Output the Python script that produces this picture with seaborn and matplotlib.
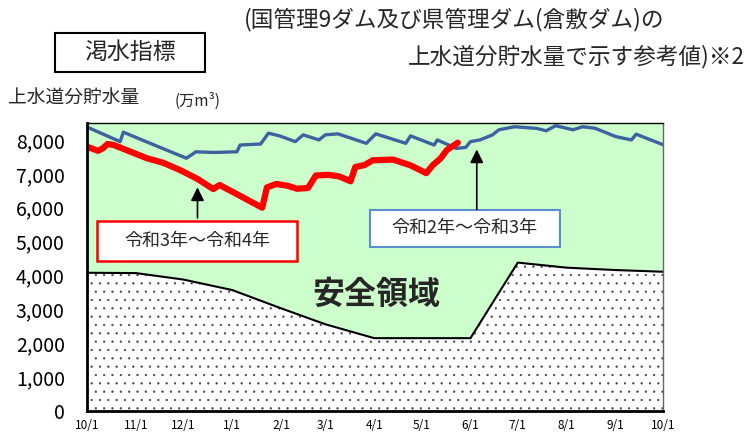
import numpy as np
import pandas as pd
import seaborn as sns
import matplotlib.pyplot as plt
from matplotlib.patches import Rectangle

# days counted from 10/1
month_labels = ["10/1", "11/1", "12/1", "1/1", "2/1", "3/1", "4/1", "5/1", "6/1", "7/1", "8/1", "9/1", "10/1"]
month_days = [0, 31, 61, 92, 123, 151, 182, 212, 243, 273, 304, 335, 365]

# 令和2年～令和3年
blue_day = [0, 21, 23, 40, 63, 69, 80, 95, 97, 110, 115, 122, 132, 137, 147, 151, 159, 177, 183,
            202, 205, 220, 222, 234, 240, 243, 249, 257, 261, 271, 285, 291, 297, 308, 314, 322,
            335, 345, 348, 365]
blue_val = [8380, 7950, 8230, 7900, 7460, 7650, 7630, 7650, 7850, 7880, 8200, 8120, 7950, 8150, 8000,
            8150, 8180, 7900, 8180, 7900, 8120, 7850, 8000, 7750, 7780, 7950, 8000, 8150, 8300, 8390,
            8340, 8270, 8420, 8300, 8390, 8345, 8100, 8000, 8170, 7860]

# 令和3年～令和4年
red_day = [0, 7, 10, 13, 17, 25, 38, 48, 59, 70, 80, 84, 95, 111, 114, 120, 127, 133, 140, 145,
           153, 160, 167, 170, 176, 181, 194, 205, 215, 219, 224, 228, 235]
red_val = [7800, 7680, 7750, 7880, 7850, 7700, 7460, 7330, 7110, 6850, 6550, 6670, 6400, 6000, 6600,
           6700, 6650, 6560, 6580, 6950, 6970, 6920, 6780, 7200, 7260, 7400, 7420, 7250, 7020, 7250,
           7450, 7700, 7920]

# 渇水指標 boundary
safe_day = [0, 31, 61, 92, 123, 151, 182, 243, 273, 304, 335, 365]
safe_val = [4080, 4070, 3880, 3570, 3030, 2560, 2150, 2150, 4380, 4230, 4160, 4110]

yticks = [0, 1000, 2000, 3000, 4000, 5000, 6000, 7000, 8000]

sns.set_style("white")
plt.rcParams["font.family"] = ["Noto Sans CJK JP", "DejaVu Sans"]
plt.rcParams["hatch.linewidth"] = 0.4

fig = plt.figure(figsize=(7.47, 4.34), dpi=100)
ax = fig.add_axes([0.1165, 0.053, 0.771, 0.6636])
ax.set_facecolor("#ccffcc")

ax.fill_between(safe_day, 0, safe_val, facecolor="white", edgecolor="#444444", hatch="..", linewidth=0)
sns.lineplot(x=safe_day, y=safe_val, ax=ax, color="black", linewidth=1.5)

blue = pd.DataFrame({"day": blue_day, "val": blue_val})
red = pd.DataFrame({"day": red_day, "val": red_val})
sns.lineplot(data=blue, x="day", y="val", ax=ax, color="#3d62a0", linewidth=2.4)
sns.lineplot(data=red, x="day", y="val", ax=ax, color="#ff0000", linewidth=4.5)

ax.set_xlim(0, 365)
ax.set_ylim(0, 8500)
ax.set_xticks(month_days)
ax.set_xticklabels(month_labels, fontsize=8.5)
ax.set_yticks(yticks)
ax.set_yticklabels([f"{v:,}" for v in yticks], fontsize=14)
ax.tick_params(axis="y", direction="in", length=5, pad=16, colors="black")
ax.tick_params(axis="x", direction="in", length=5, pad=6, colors="black")
ax.set_xlabel("")
ax.set_ylabel("")
for side in ["left", "bottom"]:
    ax.spines[side].set_linewidth(2)
    ax.spines[side].set_color("black")
ax.spines["top"].set_linewidth(1)
ax.spines["top"].set_color("black")
ax.spines["right"].set_linewidth(1)
ax.spines["right"].set_color("#666666")

ax.text(0.502, 0.403, "安全領域", transform=ax.transAxes, fontsize=23, fontweight="bold",
        ha="center", va="center")

# annotation boxes
ax.add_patch(Rectangle((0.0174, 0.521), 0.347, 0.139, transform=ax.transAxes,
                       facecolor="white", edgecolor="#ff0000", linewidth=1.8, zorder=5))
ax.text(0.191, 0.590, "令和3年～令和4年", transform=ax.transAxes, fontsize=13,
        ha="center", va="center", zorder=6)
ax.add_patch(Rectangle((0.4913, 0.569), 0.330, 0.129, transform=ax.transAxes,
                       facecolor="white", edgecolor="#5b8fd0", linewidth=1.5, zorder=5))
ax.text(0.656, 0.634, "令和2年～令和3年", transform=ax.transAxes, fontsize=13,
        ha="center", va="center", zorder=6)

arrow = dict(arrowstyle="-|>", color="black", lw=1.2, mutation_scale=20, shrinkA=0, shrinkB=0)
ax.annotate("", xy=(70, 6600), xytext=(70, 5700), arrowprops=arrow, zorder=6)
ax.annotate("", xy=(247, 7720), xytext=(247, 5950), arrowprops=arrow, zorder=6)

# header texts
fig.text(0.890, 0.954, "(国管理9ダム及び県管理ダム(倉敷ダム)の", fontsize=16.3, ha="right", va="center")
fig.text(0.997, 0.869, "上水道分貯水量で示す参考値)※2", fontsize=16.3, ha="right", va="center")
fig.patches.append(Rectangle((0.0736, 0.834), 0.2008, 0.0899, transform=fig.transFigure,
                             facecolor="white", edgecolor="black", linewidth=1.5))
fig.text(0.174, 0.880, "渇水指標", fontsize=16.5, ha="center", va="center")
fig.text(0.0107, 0.7765, "上水道分貯水量", fontsize=13.5, ha="left", va="center")
fig.text(0.234, 0.767, "(万m³)", fontsize=11, ha="left", va="center")

fig.savefig("out.png", dpi=100)
